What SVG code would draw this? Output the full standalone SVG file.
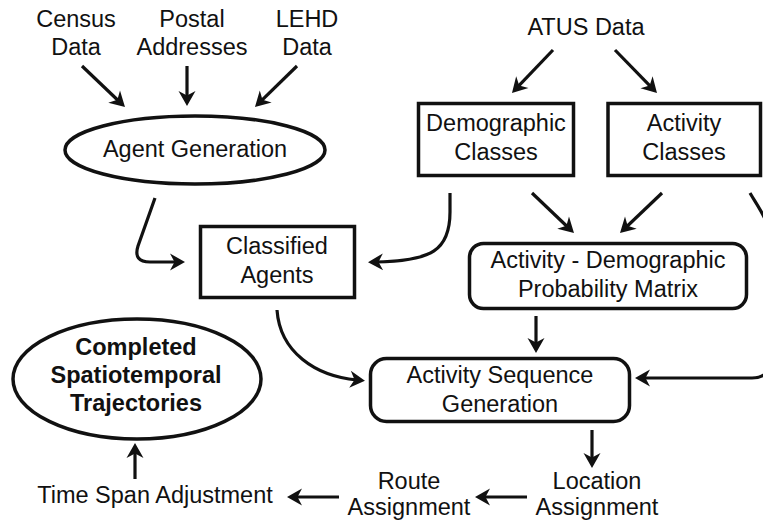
<svg xmlns="http://www.w3.org/2000/svg" width="763" height="525" viewBox="0 0 763 525">
<style>
text{font-family:"Liberation Sans",Arial,sans-serif;font-size:23.5px;fill:#111;text-anchor:middle}
.b{font-weight:bold}
.shape{fill:#fff;stroke:#111;stroke-width:3.5}
.con{fill:none;stroke:#111;stroke-width:3.2;marker-end:url(#ah)}
</style>
<defs>
<marker id="ah" viewBox="-8 -10 18 20" refX="0" refY="0" markerWidth="18" markerHeight="20" markerUnits="userSpaceOnUse" orient="auto">
<path d="M8,0 L-7,-8.5 L-2.5,0 L-7,8.5 Z" fill="#111"/>
</marker>
</defs>
<rect width="763" height="525" fill="#fff"/>
<g id="connectors">
<path class="con" d="M82,66 L119.2,101.5"/>
<path class="con" d="M187,66 L187,98"/>
<path class="con" d="M297,66 L260.7,101.4"/>
<path class="con" d="M553,50 L517.5,87.2"/>
<path class="con" d="M615,50 L651.4,87.3"/>
<path class="con" d="M155,198 L138,246 Q133,262 150,262 L177,262"/>
<path class="con" d="M450,193 L450,212 C450,250 432,261 376,262"/>
<path class="con" d="M532,193 L568.2,227.5"/>
<path class="con" d="M662,193 L625.8,227.5"/>
<path class="con" d="M536,316 L536,345"/>
<path class="con" d="M277,310 C280,352 315,376 357,380"/>
<path class="con" d="M750,193 C760,210 770,222 770,242 L770,360 Q770,378 752,378 L643,378"/>
<path class="con" d="M592,430 L592,460"/>
<path class="con" d="M527,497 L483,497"/>
<path class="con" d="M339,497 L295,497"/>
<path class="con" d="M135,479 L135,451"/>
</g>
<g id="census"><text x="76" y="27">Census</text><text x="76" y="55">Data</text></g>
<g id="postal"><text x="192" y="27">Postal</text><text x="192" y="55">Addresses</text></g>
<g id="lehd"><text x="307" y="27">LEHD</text><text x="307" y="55">Data</text></g>
<g id="atus"><text x="586" y="35">ATUS Data</text></g>
<g id="agent-generation"><ellipse class="shape" cx="195" cy="150" rx="130" ry="34"/><text x="195" y="157">Agent Generation</text></g>
<g id="demographic-classes"><rect class="shape" x="418.5" y="103.5" width="155" height="72"/><text x="496" y="131">Demographic</text><text x="496" y="160">Classes</text></g>
<g id="activity-classes"><rect class="shape" x="608" y="103.5" width="152.5" height="72"/><text x="684" y="131">Activity</text><text x="684" y="160">Classes</text></g>
<g id="classified-agents"><rect class="shape" x="200.5" y="226.5" width="154" height="71"/><text x="277" y="254">Classified</text><text x="277" y="283">Agents</text></g>
<g id="probability-matrix"><rect class="shape" x="469.5" y="243.5" width="277" height="65" rx="14"/><text x="608" y="268">Activity - Demographic</text><text x="608" y="297">Probability Matrix</text></g>
<g id="sequence-generation"><rect class="shape" x="370.5" y="358.5" width="259" height="63" rx="16"/><text x="500" y="383">Activity Sequence</text><text x="500" y="412">Generation</text></g>
<g id="completed"><ellipse class="shape" cx="137" cy="379" rx="124" ry="60"/><text class="b" x="136" y="355">Completed</text><text class="b" x="136" y="383">Spatiotemporal</text><text class="b" x="136" y="411">Trajectories</text></g>
<g id="location-assignment"><text x="597" y="489">Location</text><text x="597" y="515">Assignment</text></g>
<g id="route-assignment"><text x="409" y="489">Route</text><text x="409" y="515">Assignment</text></g>
<g id="time-span"><text x="155" y="503">Time Span Adjustment</text></g>
</svg>
